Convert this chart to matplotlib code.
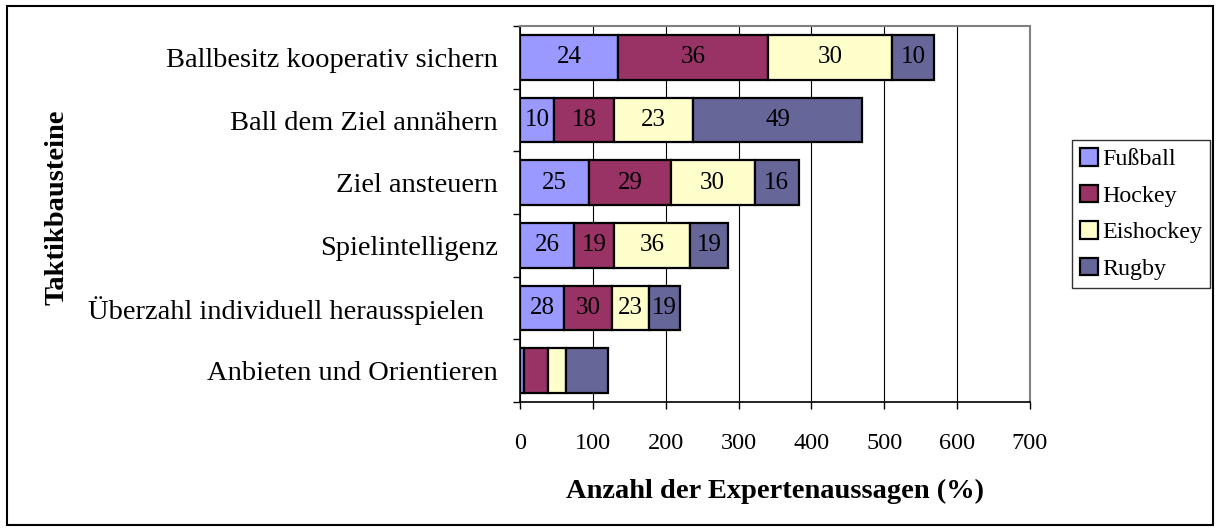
import matplotlib.pyplot as plt
import numpy as np
from matplotlib.patches import Rectangle

plt.rcParams['font.family'] = ['Liberation Serif', 'DejaVu Serif']

categories = [
    "Ballbesitz kooperativ sichern",
    "Ball dem Ziel annähern",
    "Ziel ansteuern",
    "Spielintelligenz",
    "Überzahl individuell herausspielen  ",
    "Anbieten und Orientieren",
]
sports = ["Fußball", "Hockey", "Eishockey", "Rugby"]
colors = ["#9999FF", "#993366", "#FFFFCC", "#666699"]

# Anzahl der Aussagen (Balkenlänge)
fussball = [135, 47, 95, 74, 61, 6]
hockey = [206, 82, 112, 55, 65, 32]
eishockey = [170, 109, 115, 105, 51, 25]
rugby = [57, 231, 61, 52, 43, 58]

# Prozentangaben (Beschriftung)
pct_fussball = [24, 10, 25, 26, 28, None]
pct_hockey = [36, 18, 29, 19, 30, None]
pct_eishockey = [30, 23, 30, 36, 23, None]
pct_rugby = [10, 49, 16, 19, 19, None]

counts = [fussball, hockey, eishockey, rugby]
pcts = [pct_fussball, pct_hockey, pct_eishockey, pct_rugby]

fig = plt.figure(figsize=(12.18, 5.31), dpi=100)
ax = fig.add_axes([0.4269, 0.2429, 0.4187, 0.708])

y = np.arange(len(categories))
left = np.zeros(len(categories))
for name, vals, labels, col in zip(sports, counts, pcts, colors):
    bars = ax.barh(y, vals, left=left, height=0.71, color=col,
                   edgecolor="black", linewidth=1.6, label=name)
    for rect, lab in zip(bars, labels):
        if lab is None:
            continue
        ax.text(rect.get_x() + rect.get_width() / 2,
                rect.get_y() + rect.get_height() / 2, str(lab),
                ha="center", va="center", fontsize=18)
    left += np.array(vals)

ax.set_xlim(0, 700)
ax.set_ylim(len(categories) - 0.5, -0.5)
ax.set_xticks(range(0, 701, 100))
ax.tick_params(axis="x", labelsize=17.5, length=5, width=1, pad=17)
ax.set_yticks(y)
ax.set_yticklabels(categories, fontsize=20.5)
ax.tick_params(axis="y", length=0, pad=16)
ax.set_yticks(np.arange(-0.5, len(categories), 1), minor=True)
ax.tick_params(axis="y", which="minor", length=5, width=1)
ax.grid(axis="x", color="black", linewidth=0.8)
ax.set_axisbelow(True)
for side in ["top", "right"]:
    ax.spines[side].set_color("#808080")
    ax.spines[side].set_linewidth(1.5)
for side in ["left", "bottom"]:
    ax.spines[side].set_linewidth(1.2)

ax.set_xlabel("Anzahl der Expertenaussagen (%)", fontsize=20.5,
              fontweight="bold", labelpad=18)
fig.text(0.047, 0.61, "Taktikbausteine", rotation=90, fontsize=20.5,
         fontweight="bold", ha="center", va="center")

leg = ax.legend(loc="center left", bbox_to_anchor=(1.082, 0.5),
                fontsize=17.3, frameon=True, fancybox=False,
                edgecolor="black", handlelength=0.75, handleheight=0.75,
                handletextpad=0.15, borderpad=0.35, labelspacing=0.6,
                borderaxespad=0)
leg.get_frame().set_linewidth(1.0)

fig.patches.append(Rectangle((0.006, 0.012), 0.99, 0.976,
                             transform=fig.transFigure, fill=False,
                             edgecolor="black", linewidth=1.5))

fig.savefig("out.png", dpi=100)
